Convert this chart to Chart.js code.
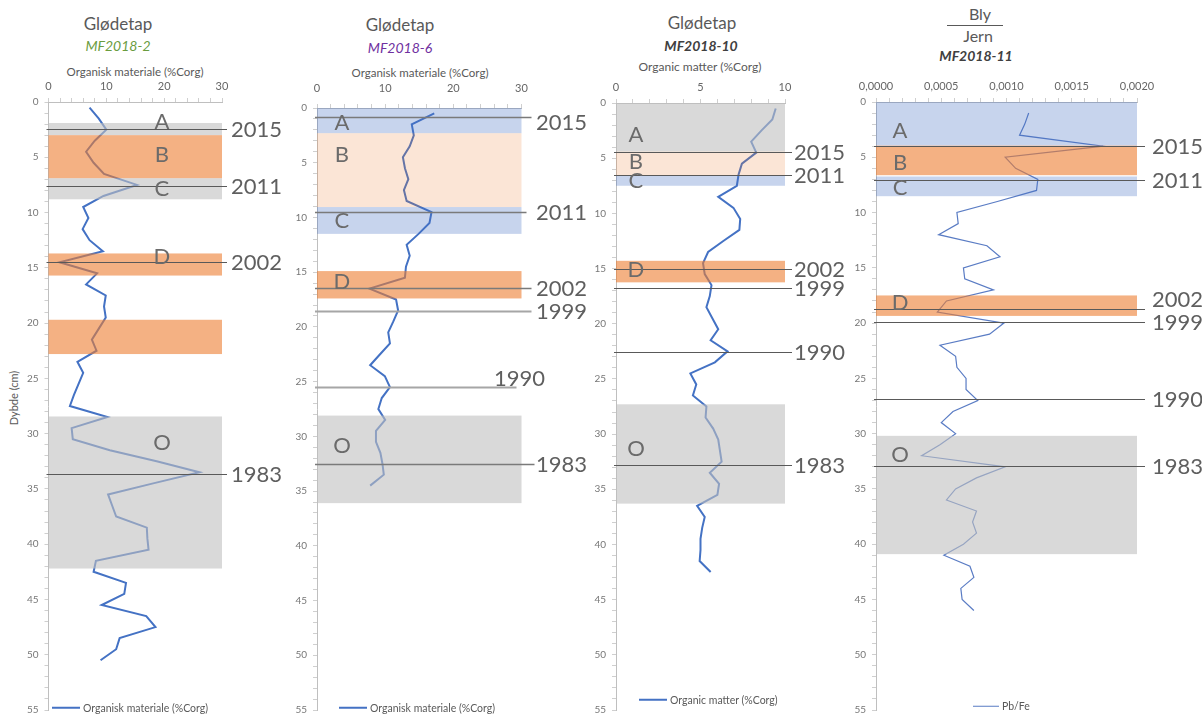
<!DOCTYPE html>
<html>
<head>
<meta charset="utf-8">
<script src="https://cdn.jsdelivr.net/npm/chart.js@4.4.1/dist/chart.umd.min.js"></script>
<style>
body{margin:0;background:#fff;width:1202px;height:722px;overflow:hidden;position:relative;font-family:Lato,"Open Sans",sans-serif;color:#595959}
canvas{position:absolute;top:0}
.t{position:absolute;transform:translate(-50%,-50%);white-space:nowrap;line-height:1}
.leg{position:absolute;white-space:nowrap;font-size:10.5px;line-height:1;transform:translateY(-50%);display:flex;align-items:center}
.leg i{display:inline-block;width:28px;height:2px;background:#4472C4;margin-right:3px}
</style>
</head>
<body>
<!-- titles -->
<div class="t" style="left:118px;top:23px;font-size:17px">Glødetap</div>
<div class="t" style="left:118px;top:46px;font-size:14px;font-style:italic;color:#6a9c3e">MF2018-2</div>
<div class="t" style="left:135px;top:72px;font-size:11.5px">Organisk materiale (%Corg)</div>

<div class="t" style="left:400px;top:24px;font-size:17px">Glødetap</div>
<div class="t" style="left:400px;top:48px;font-size:14px;font-style:italic;color:#7030a0">MF2018-6</div>
<div class="t" style="left:420px;top:73px;font-size:11.5px">Organisk materiale (%Corg)</div>

<div class="t" style="left:702px;top:22px;font-size:17px">Glødetap</div>
<div class="t" style="left:701px;top:46px;font-size:14px;font-style:italic;font-weight:bold;color:#404040">MF2018-10</div>
<div class="t" style="left:700px;top:67px;font-size:12px">Organic matter (%Corg)</div>

<div class="t" style="left:980px;top:14px;font-size:16px">Bly</div>
<div style="position:absolute;left:947px;top:25px;width:56px;height:1px;background:#595959"></div>
<div class="t" style="left:978px;top:36px;font-size:16px">Jern</div>
<div class="t" style="left:976px;top:56px;font-size:14px;font-style:italic;font-weight:bold;color:#404040">MF2018-11</div>

<div class="t" style="left:13px;top:398px;font-size:11px;transform:translate(-50%,-50%) rotate(-90deg)">Dybde (cm)</div>

<canvas id="c1" width="290" height="722" style="left:0px"></canvas>
<canvas id="c2" width="300" height="722" style="left:290px"></canvas>
<canvas id="c3" width="255" height="722" style="left:590px"></canvas>
<canvas id="c4" width="357" height="722" style="left:845px"></canvas>

<!-- legends -->
<div class="leg" style="left:52px;top:708px"><i></i>Organisk materiale (%Corg)</div>
<div class="leg" style="left:339px;top:708px"><i></i>Organisk materiale (%Corg)</div>
<div class="leg" style="left:639px;top:700px"><i></i>Organic matter (%Corg)</div>
<div class="leg" style="left:973px;top:706px"><i style="height:1px;width:26px;background:#5a7cc4"></i>Pb/Fe</div>

<script>
// ---- MF2018-2 : glødetap ----
const depthMF2 = [0.5,1.5,2.5,3.5,4.5,5.5,6.5,7.5,8.5,9.5,10.5,11.5,12.5,13.5,14.5,15.5,16.5,17.5,18.5,19.5,
  20.5,21.5,22.5,23.5,24.5,25.5,26.5,27.5,28.5,29.5,30.5,31.5,32.5,33.5,34.5,35.5,36.5,37.5,38.5,39.5,
  40.5,41.5,42.5,43.5,44.5,45.5,46.5,47.5,48.5,49.5,50.5];
const corgMF2 = [7.1,8.7,10.0,8.0,6.5,7.8,9.6,15.3,9.5,6.0,6.9,5.9,7.1,9.4,1.9,8.4,6.5,9.9,9.6,9.9,
  8.7,7.5,8.3,5.0,6.0,5.2,4.4,3.7,10.2,4.0,4.2,10.6,18.7,26.1,18.1,10.3,11.0,11.7,17.0,17.1,
  17.3,8.2,7.8,13.4,13.1,9.2,16.9,18.5,12.3,11.7,9.0];
const bandTopMF2 = [1.9, 3.0, 6.9, 13.7, 19.7, 28.45];
const bandBottomMF2 = [3.0, 6.9, 8.8, 15.7, 22.8, 42.2];
const bandTypeMF2 = ['grey','orange','grey','orange','orange','grey'];
const bandNameMF2 = ['A','B','C','D','','O'];
const bandLabelDepthMF2 = [1.8, 4.75, 7.9, 14.0, null, 30.8];
const yearMF2 = ['2015','2011','2002','1983'];
const yearDepthMF2 = [2.45, 7.6, 14.5, 33.65];

// ---- MF2018-6 : glødetap ----
const depthMF6 = [0.5,1.5,2.5,3.5,4.5,5.5,6.5,7.5,8.5,9.5,10.5,11.5,12.5,13.5,14.5,15.5,16.5,17.5,18.5,19.5,
  20.5,21.5,22.5,23.5,24.5,25.5,26.5,27.5,28.5,29.5,30.5,31.5,32.5,33.5,34.5];
const corgMF6 = [17.2,13.9,14.2,13.6,12.6,12.9,13.4,12.75,13.15,16.8,16.5,14.9,13.15,13.6,13.05,12.9,7.7,11.6,11.9,11.2,
  10.45,10.7,9.25,7.8,9.95,10.7,9.5,9.0,10.0,8.65,8.65,9.3,9.6,9.8,7.8];
const bandTopMF6 = [0, 2.3, 9.05, 14.9, 28.1];
const bandBottomMF6 = [2.3, 9.05, 11.5, 17.4, 36.1];
const bandTypeMF6 = ['blue','peach','blue','orange','grey'];
const bandNameMF6 = ['A','B','C','D','O'];
const bandLabelDepthMF6 = [1.35, 4.25, 10.3, 15.9, 30.9];
const yearMF6 = ['2015','2011','2002','1999','1990','1983'];
const yearDepthMF6 = [0.78, 9.5, 16.45, 18.55, 25.5, 32.55];

// ---- MF2018-10 : glødetap ----
const depthMF10 = [0.5,1.5,2.5,3.5,4.5,5.5,6.5,7.5,8.5,9.5,10.5,11.5,12.5,13.5,14.5,15.5,16.5,17.5,18.5,19.5,
  20.5,21.5,22.5,23.5,24.5,25.5,26.5,27.5,28.5,29.5,30.5,31.5,32.5,33.5,34.5,35.5,36.5,37.5,38.5,39.5,
  40.5,41.5,42.5];
const corgMF10 = [9.45,9.25,8.6,8.0,8.3,7.45,7.25,7.15,6.05,6.95,7.35,7.3,6.35,5.45,5.15,5.25,5.65,5.55,5.35,5.7,
  6.05,5.6,6.6,5.85,4.4,4.75,4.55,5.35,5.3,5.75,6.05,6.15,6.25,5.55,6.1,6.0,4.8,5.25,5.1,5.0,
  5.0,4.95,5.6];
const bandTopMF10 = [0, 4.4, 6.55, 14.3, 27.3];
const bandBottomMF10 = [4.4, 6.55, 7.5, 16.25, 36.3];
const bandTypeMF10 = ['grey','peach','blue','orange','grey'];
const bandNameMF10 = ['A','B','C','D','O'];
const bandLabelDepthMF10 = [2.9, 5.3, 7.1, 15.1, 31.3];
const yearMF10 = ['2015','2011','2002','1999','1990','1983'];
const yearDepthMF10 = [4.4, 6.55, 15.0, 16.8, 22.55, 32.8];

// ---- MF2018-11 : Pb/Fe ----
const depthMF11 = [1,2,3,4,5,6,7,8,9,10,11,12,13,14,15,16,17,18,19,20,21,22,23,24,25,26,27,28,29,30,
  31,32,33,34,35,36,37,38,39,40,41,42,43,44,45,46];
const pbfeMF11 = [0.00117,0.00114,0.00110,0.00174,0.00099,0.00107,0.00124,0.00123,0.00093,0.00062,
  0.00063,0.00048,0.00085,0.00095,0.00067,0.00068,0.00090,0.00054,0.00047,0.00098,
  0.00087,0.00049,0.00061,0.00062,0.00069,0.00069,0.00078,0.00059,0.00050,0.00061,
  0.00049,0.00035,0.00099,0.00077,0.00061,0.00054,0.00077,0.00074,0.00077,0.00067,
  0.00052,0.00072,0.00075,0.00065,0.00066,0.00075];
const bandTopMF11 = [0, 3.95, 6.74, 17.5, 30.2];
const bandBottomMF11 = [3.95, 6.62, 8.52, 19.35, 40.9];
const bandTypeMF11 = ['blue','orange','blue','orange','grey'];
const bandNameMF11 = ['A','B','C','D','O'];
const bandLabelDepthMF11 = [2.6, 5.5, 7.8, 18.2, 31.9];
const yearMF11 = ['2015','2011','2002','1999','1990','1983'];
const yearDepthMF11 = [3.95, 7.04, 18.75, 19.9, 26.85, 32.97];

//colours of the zones (drawn semi transparent over the curve, like in the excel sheet)
const bandFill = {
  grey: 'rgba(191,191,191,0.6)',
  orange: 'rgba(237,125,49,0.6)',
  peach: 'rgba(237,125,49,0.2)',
  blue: 'rgba(68,114,196,0.3)'
};

//plugin that draws the zones, year lines and letters
const zonePlugin = function (p) {
  return {
    id: 'zones',
    afterDatasetsDraw(chart) {
      const ctx = chart.ctx;
      const a = chart.chartArea;
      const y = chart.scales.y;
      ctx.save();
      p.bandTop.forEach(function (top, i) {
        const y0 = y.getPixelForValue(top);
        const y1 = y.getPixelForValue(p.bandBottom[i]);
        ctx.fillStyle = bandFill[p.bandType[i]];
        ctx.fillRect(a.left, y0, a.right - a.left, y1 - y0);
      });
      ctx.font = '22px Lato';
      ctx.textBaseline = 'middle';
      p.years.forEach(function (yr, i) {
        const st = Object.assign({}, p.yearDefault, p.yearStyle[yr] || {});
        const yy = Math.round(y.getPixelForValue(p.yearDepth[i])) + 0.5;
        ctx.strokeStyle = st.color;
        ctx.lineWidth = st.width;
        ctx.beginPath();
        ctx.moveTo(a.left - 2, yy);
        ctx.lineTo(a.right + st.end, yy);
        ctx.stroke();
        ctx.fillStyle = '#5f5f5f';
        ctx.textAlign = 'left';
        ctx.fillText(yr, a.right + st.text, yy + st.dy);
      });
      ctx.fillStyle = '#6b6b6b';
      ctx.textAlign = 'center';
      p.bandName.forEach(function (nm, i) {
        if (!nm) return;
        ctx.fillText(nm, a.left + p.letterX * (a.right - a.left), y.getPixelForValue(p.bandLabelDepth[i]));
      });
      ctx.restore();
    }
  };
};

const makePanel = function (p) {
  const points = p.depth.map(function (d, i) { return {x: p.value[i], y: d}; });
  new Chart(document.getElementById(p.canvas), {
    type: 'line',
    data: {
      datasets: [{
        label: p.label,
        data: points,
        borderColor: p.lineColor,
        borderWidth: p.lineWidth,
        pointRadius: 0,
        fill: false,
        tension: 0
      }]
    },
    options: {
      indexAxis: 'y',
      responsive: false,
      animation: false,
      events: [],
      layout: {padding: {left: 0, top: 0, right: p.padRight, bottom: p.padBottom}},
      plugins: {legend: {display: false}, tooltip: {enabled: false}},
      scales: {
        x: {
          type: 'linear',
          position: 'top',
          min: p.xMin,
          max: p.xMax,
          ticks: {
            stepSize: p.xMinor,
            maxTicksLimit: 100,
            autoSkip: false,
            maxRotation: 0,
            padding: p.xTickPad,
            color: '#666',
            font: {family: 'Lato', size: 11},
            callback: function (v) {
              return Math.round(v / p.xMinor) % p.xEvery === 0 ? p.xFormat(v) : '';
            }
          },
          grid: {display: true, drawOnChartArea: false, drawTicks: true, tickLength: 4, color: '#cfcfcf'},
          border: {display: true, color: '#bfbfbf'},
          afterFit: function (s) { s.height = p.topH; }
        },
        y: {
          type: 'linear',
          reverse: true,
          min: 0,
          max: 55,
          ticks: {
            stepSize: 1,
            maxTicksLimit: 100,
            autoSkip: false,
            padding: 6,
            color: '#777',
            font: {family: 'Lato', size: 10},
            callback: function (v) { return v % 5 === 0 ? String(v) : ''; }
          },
          grid: {display: true, drawOnChartArea: false, drawTicks: true, tickLength: 4, color: '#cfcfcf'},
          border: {display: true, color: '#bfbfbf'},
          afterFit: function (s) { s.width = p.yAxisW; }
        }
      }
    },
    plugins: [zonePlugin(p)]
  });
};

const plain = function (v) { return String(v); };

makePanel({
  canvas: 'c1', label: 'Organisk materiale (%Corg)',
  depth: depthMF2, value: corgMF2,
  bandTop: bandTopMF2, bandBottom: bandBottomMF2, bandType: bandTypeMF2, bandName: bandNameMF2, bandLabelDepth: bandLabelDepthMF2,
  years: yearMF2, yearDepth: yearDepthMF2,
  xMin: 0, xMax: 30, xMinor: 2, xEvery: 5, xFormat: plain, xTickPad: 5,
  lineColor: '#4472C4', lineWidth: 2,
  yAxisW: 48.5, topH: 102, padRight: 68, padBottom: 6,
  letterX: 0.654,
  yearDefault: {color: '#595959', width: 1, end: 5, text: 9, dy: 0},
  yearStyle: {}
});

makePanel({
  canvas: 'c2', label: 'Organisk materiale (%Corg)',
  depth: depthMF6, value: corgMF6,
  bandTop: bandTopMF6, bandBottom: bandBottomMF6, bandType: bandTypeMF6, bandName: bandNameMF6, bandLabelDepth: bandLabelDepthMF6,
  years: yearMF6, yearDepth: yearDepthMF6,
  xMin: 0, xMax: 30, xMinor: 2, xEvery: 5, xFormat: plain, xTickPad: 9,
  lineColor: '#4472C4', lineWidth: 2,
  yAxisW: 27, topH: 108, padRight: 68.5, padBottom: 5,
  letterX: 0.122,
  yearDefault: {color: '#7a7a7a', width: 1.3, end: 10, text: 14.5, dy: 0},
  yearStyle: {
    '2015': {dy: 5},
    '2011': {end: 5},
    '1999': {color: '#a6a6a6', width: 2},
    '1990': {color: '#a6a6a6', width: 2, end: -5, text: -27.5, dy: -9},
    '1983': {end: 13}
  }
});

makePanel({
  canvas: 'c3', label: 'Organic matter (%Corg)',
  depth: depthMF10, value: corgMF10,
  bandTop: bandTopMF10, bandBottom: bandBottomMF10, bandType: bandTypeMF10, bandName: bandNameMF10, bandLabelDepth: bandLabelDepthMF10,
  years: yearMF10, yearDepth: yearDepthMF10,
  xMin: 0, xMax: 10, xMinor: 1, xEvery: 5, xFormat: plain, xTickPad: 5,
  lineColor: '#4472C4', lineWidth: 2,
  yAxisW: 26, topH: 103, padRight: 60, padBottom: 5,
  letterX: 0.118,
  yearDefault: {color: '#595959', width: 1, end: 7, text: 9, dy: 0},
  yearStyle: {}
});

makePanel({
  canvas: 'c4', label: 'Pb/Fe',
  depth: depthMF11, value: pbfeMF11,
  bandTop: bandTopMF11, bandBottom: bandBottomMF11, bandType: bandTypeMF11, bandName: bandNameMF11, bandLabelDepth: bandLabelDepthMF11,
  years: yearMF11, yearDepth: yearDepthMF11,
  xMin: 0, xMax: 0.002, xMinor: 0.0001, xEvery: 5,
  xFormat: function (v) { return v.toFixed(4).replace('.', ','); }, xTickPad: 5,
  lineColor: '#5a7cc4', lineWidth: 1.2,
  yAxisW: 31, topH: 102, padRight: 65, padBottom: 5,
  letterX: 0.092,
  yearDefault: {color: '#595959', width: 1, end: 8, text: 15, dy: 0},
  yearStyle: {'2002': {dy: -10}}
});
</script>
</body>
</html>
